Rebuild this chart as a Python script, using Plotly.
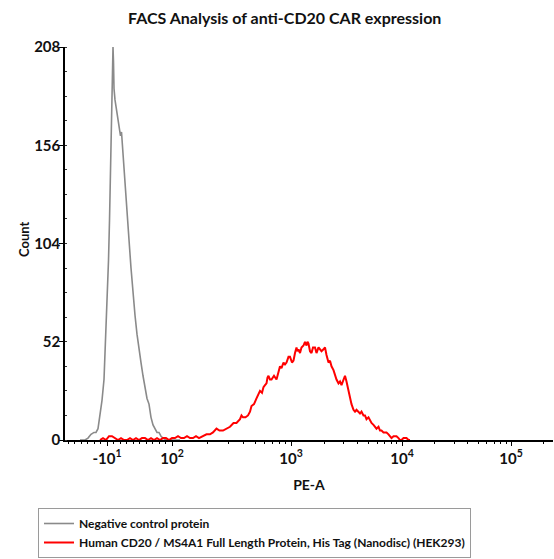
import numpy as np
import plotly.graph_objects as go

# ---- data (x in display channel units of a biexponential PE-A axis, y = count) ----
gray_x = [30, 40, 46, 52, 58, 62, 66, 70, 74, 78, 80, 82, 84, 87, 89, 91, 93, 94, 96, 97,
          98, 100, 103, 106, 109, 111, 113, 115, 117, 120, 124, 128, 132, 136, 140, 144,
          148, 152, 156, 160, 164, 168, 172, 176, 180, 184, 188, 192, 196, 202, 230]
gray_y = [0, 0, 1, 3, 4, 4, 6, 13, 21, 32, 45, 58, 74, 95, 116, 143, 175, 196, 208, 200,
          186, 180, 175, 170, 165, 161, 163, 156, 146, 135, 122, 106, 91, 77, 66, 56,
          47, 41, 34, 28, 22, 19, 12, 8, 6, 4, 4, 2, 1, 0, 0]

red_x = [70, 76, 82, 88, 94, 100, 106, 112, 118, 124, 130, 136, 142, 148, 154, 160, 166, 172,
         178, 184, 190, 196, 202, 208, 214, 220, 226, 232, 238, 244, 250, 256, 262, 268, 276,
         283, 290, 296, 303, 309, 316, 323, 330, 337, 343, 350, 353, 356, 361, 366, 370, 373,
         378, 383, 386, 390, 394, 397, 400, 403, 405, 407, 410, 413, 418, 423, 427, 430, 433,
         437, 440, 443, 447, 450, 454, 457, 460, 463, 465, 467, 470, 473, 477, 480, 483, 485,
         487, 490, 493, 496, 500, 503, 507, 510, 513, 517, 520, 523, 527, 530, 533, 537, 540,
         543, 547, 550, 553, 557, 560, 563, 567, 570, 573, 577, 580, 583, 587, 590, 593, 597,
         600, 603, 607, 610, 613, 617, 620, 623, 627, 630, 633, 637, 640, 643, 647, 650, 653,
         657, 660, 663, 667, 670, 673, 677, 680, 683, 687, 690]
red_y = [0, 1, 0, 2, 2, 1, 0, 1, 0, 0, 1, 0, 1, 0, 1, 1, 0, 1,
         0, 1, 0, 1, 1, 0, 1, 1, 2, 1, 1, 2, 1, 1, 2, 1, 2,
         3, 3, 4, 6, 5, 5, 6, 7, 9, 9, 11, 13, 12, 12, 13, 15, 18,
         19, 22, 24, 26, 25, 28, 29, 30, 33, 34, 32, 32, 34, 32, 36, 39, 38,
         41, 40, 41, 44, 44, 41, 42, 46, 49, 47, 48, 46, 49, 50, 52, 50, 52,
         51, 47, 46, 49, 49, 46, 49, 48, 47, 48, 49, 45, 41, 42, 39, 37, 34,
         32, 30, 31, 29, 32, 34, 31, 26, 22, 19, 16, 15, 16, 15, 14, 15, 13,
         13, 11, 12, 10, 9, 8, 7, 6, 7, 5, 5, 4, 4, 4, 3, 2, 1,
         2, 2, 2, 1, 0, 0, 1, 1, 1, 0, 0]

x_tickvals = [84, 214, 452, 674, 892]
x_ticktext = ["-10<sup>1</sup>", "10<sup>2</sup>", "10<sup>3</sup>", "10<sup>4</sup>", "10<sup>5</sup>"]
y_tickvals = [0, 52, 104, 156, 208]

series_names = ["Negative control protein",
                "Human CD20 / MS4A1 Full Length Protein, His Tag (Nanodisc) (HEK293)"]

# ---- minor ticks: linear region + log decades ----
x_max = 976
decades = x_tickvals[1:] + [892 + 218]
minor = [v for v in range(6, 210, 13) if abs(v - 84) > 4]
for i in range(len(decades) - 1):
    w = decades[i + 1] - decades[i]
    for k in range(2, 10):
        p = decades[i] + np.log10(k) * w
        if p < x_max:
            minor.append(float(p))

FONT = "Lato"
fig = go.Figure()
fig.add_trace(go.Scatter(x=gray_x, y=gray_y, mode="lines", name=series_names[0],
                         line=dict(color="#8a8a8a", width=1.6)))
fig.add_trace(go.Scatter(x=red_x, y=red_y, mode="lines", name=series_names[1],
                         line=dict(color="#ff0000", width=2)))

fig.update_layout(
    width=554, height=559,
    margin=dict(l=65, r=1, t=47, b=119, autoexpand=False),
    paper_bgcolor="white", plot_bgcolor="white",
    title=dict(text="<b>FACS Analysis of anti-CD20 CAR expression</b>",
               x=0.514, xanchor="center", y=1 - 18 / 559, yanchor="middle",
               font=dict(family=FONT, size=16, color="#111")),
    showlegend=True,
    legend=dict(xref="container", yref="container",
                x=38 / 554, y=1 - 508 / 559, xanchor="left", yanchor="top",
                bordercolor="#9a9a9a", borderwidth=1, bgcolor="white",
                font=dict(family=FONT, size=12, color="#111", weight="bold"),
                tracegroupgap=0),
    xaxis=dict(range=[0, x_max], tickmode="array", tickvals=x_tickvals,
               ticktext=["<b>" + t + "</b>" for t in x_ticktext],
               ticks="outside", ticklen=4, tickcolor="black",
               showline=True, linecolor="black", linewidth=1.5,
               showgrid=False, zeroline=False,
               tickfont=dict(family=FONT, size=15, color="#111"),
               minor=dict(tickmode="array", tickvals=minor, ticks="outside",
                          ticklen=2, tickcolor="black", showgrid=False),
               title=dict(text="<b>PE-A</b>", standoff=14,
                          font=dict(family=FONT, size=14, color="#111"))),
    yaxis=dict(range=[0, 208], tickmode="array", tickvals=y_tickvals,
               ticks="outside", ticklen=4, tickcolor="black",
               ticklabelstandoff=-4,
               showline=True, linecolor="black", linewidth=1.5,
               showgrid=False, zeroline=False,
               tickfont=dict(family=FONT, size=15, color="#111", weight="bold"),
               minor=dict(tickmode="linear", tick0=0, dtick=13, ticks="inside",
                          ticklen=2, tickcolor="#333", showgrid=False)),
    annotations=[dict(text="<b>Count</b>", textangle=-90, showarrow=False,
                      xref="paper", yref="paper", x=(24 - 65) / 488, y=(440 - 239) / 393,
                      xanchor="center", yanchor="middle",
                      font=dict(family=FONT, size=13, color="#111"))],
)

fig.write_html("out.html", config={"displayModeBar": False},
               post_script="document.body.style.margin='0';document.body.style.padding='0';")
